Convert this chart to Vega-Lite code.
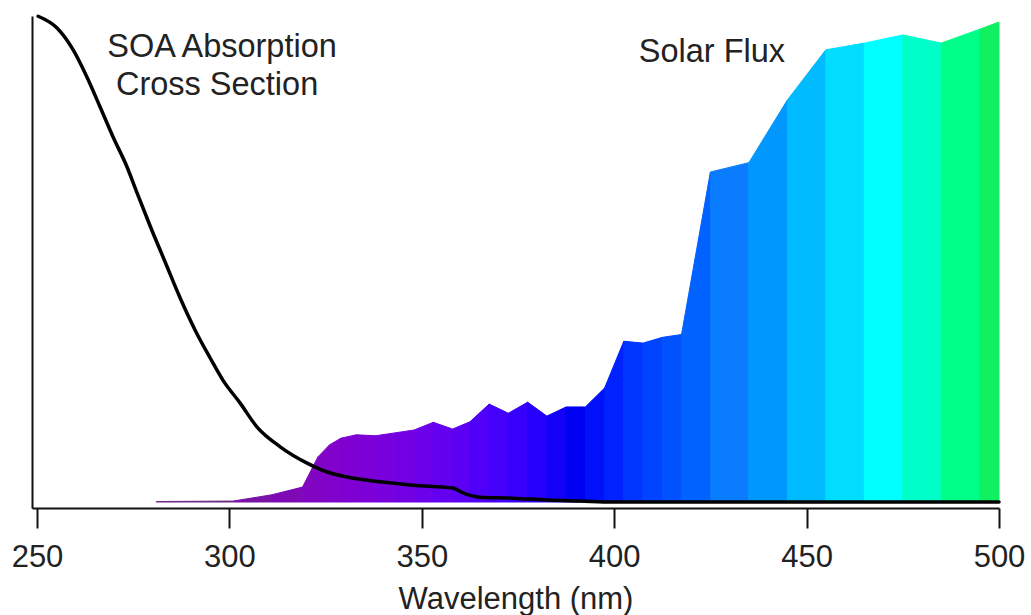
{
  "$schema": "https://vega.github.io/schema/vega-lite/v6.json",
  "autosize": {"type": "none"},
  "padding": {"left": 32, "top": 16, "right": 32, "bottom": 107},
  "width": 967,
  "height": 492,
  "background": "white",
  "config": {
    "view": {"stroke": null},
    "font": "Liberation Sans",
    "text": {"font": "Liberation Sans"}
  },
  "datasets": {
    "flux": [
      {"band": "281-301", "wl": 281, "flux": 0.1}, {"band": "281-301", "wl": 301, "flux": 0.2},
      {"band": "301-311", "wl": 301, "flux": 0.2}, {"band": "301-311", "wl": 311, "flux": 1.5},
      {"band": "311-319", "wl": 311, "flux": 1.5}, {"band": "311-319", "wl": 319, "flux": 3.1},
      {"band": "319-323", "wl": 319, "flux": 3.1}, {"band": "319-323", "wl": 323, "flux": 9.4},
      {"band": "323-326", "wl": 323, "flux": 9.4}, {"band": "323-326", "wl": 326, "flux": 11.9},
      {"band": "326-329", "wl": 326, "flux": 11.9}, {"band": "326-329", "wl": 329, "flux": 13.3},
      {"band": "329-333", "wl": 329, "flux": 13.3}, {"band": "329-333", "wl": 333, "flux": 14.0},
      {"band": "333-338", "wl": 333, "flux": 14.0}, {"band": "333-338", "wl": 338, "flux": 13.8},
      {"band": "338-343", "wl": 338, "flux": 13.8}, {"band": "338-343", "wl": 343, "flux": 14.4},
      {"band": "343-348", "wl": 343, "flux": 14.4}, {"band": "343-348", "wl": 348, "flux": 15.0},
      {"band": "348-353", "wl": 348, "flux": 15.0}, {"band": "348-353", "wl": 353, "flux": 16.6},
      {"band": "353-358", "wl": 353, "flux": 16.6}, {"band": "353-358", "wl": 358, "flux": 15.2},
      {"band": "358-362.5", "wl": 358, "flux": 15.2}, {"band": "358-362.5", "wl": 362.5, "flux": 16.7},
      {"band": "362.5-367.5", "wl": 362.5, "flux": 16.7}, {"band": "362.5-367.5", "wl": 367.5, "flux": 20.4},
      {"band": "367.5-372.5", "wl": 367.5, "flux": 20.4}, {"band": "367.5-372.5", "wl": 372.5, "flux": 18.5},
      {"band": "372.5-377.5", "wl": 372.5, "flux": 18.5}, {"band": "372.5-377.5", "wl": 377.5, "flux": 20.8},
      {"band": "377.5-382.5", "wl": 377.5, "flux": 20.8}, {"band": "377.5-382.5", "wl": 382.5, "flux": 17.9},
      {"band": "382.5-387.5", "wl": 382.5, "flux": 17.9}, {"band": "382.5-387.5", "wl": 387.5, "flux": 19.8},
      {"band": "387.5-392.5", "wl": 387.5, "flux": 19.8}, {"band": "387.5-392.5", "wl": 392.5, "flux": 19.8},
      {"band": "392.5-397.5", "wl": 392.5, "flux": 19.8}, {"band": "392.5-397.5", "wl": 397.5, "flux": 23.75},
      {"band": "397.5-402.5", "wl": 397.5, "flux": 23.75}, {"band": "397.5-402.5", "wl": 402.5, "flux": 33.5},
      {"band": "402.5-407.5", "wl": 402.5, "flux": 33.5}, {"band": "402.5-407.5", "wl": 407.5, "flux": 33.1},
      {"band": "407.5-412.5", "wl": 407.5, "flux": 33.1}, {"band": "407.5-412.5", "wl": 412.5, "flux": 34.3},
      {"band": "412.5-417.5", "wl": 412.5, "flux": 34.3}, {"band": "412.5-417.5", "wl": 417.5, "flux": 34.9},
      {"band": "417.5-425", "wl": 417.5, "flux": 34.9}, {"band": "417.5-425", "wl": 425, "flux": 68.75},
      {"band": "425-435", "wl": 425, "flux": 68.75}, {"band": "425-435", "wl": 435, "flux": 70.7},
      {"band": "435-445", "wl": 435, "flux": 70.7}, {"band": "435-445", "wl": 445, "flux": 83.75},
      {"band": "445-455", "wl": 445, "flux": 83.75}, {"band": "445-455", "wl": 455, "flux": 94.2},
      {"band": "455-465", "wl": 455, "flux": 94.2}, {"band": "455-465", "wl": 465, "flux": 95.6},
      {"band": "465-475", "wl": 465, "flux": 95.6}, {"band": "465-475", "wl": 475, "flux": 97.3},
      {"band": "475-485", "wl": 475, "flux": 97.3}, {"band": "475-485", "wl": 485, "flux": 95.6},
      {"band": "485-495", "wl": 485, "flux": 95.6}, {"band": "485-495", "wl": 495, "flux": 98.5},
      {"band": "495-500", "wl": 495, "flux": 98.5}, {"band": "495-500", "wl": 500, "flux": 100}
    ],
    "soa": [
      {"wl": 250.3, "xs": 101.2}, {"wl": 255.2, "xs": 98.75}, {"wl": 259.4, "xs": 94.2},
      {"wl": 263.0, "xs": 88.5}, {"wl": 266.4, "xs": 82.3}, {"wl": 269.8, "xs": 76.0},
      {"wl": 273.4, "xs": 69.8}, {"wl": 276.0, "xs": 64.4}, {"wl": 279.4, "xs": 57.5},
      {"wl": 283.3, "xs": 50.0}, {"wl": 287.2, "xs": 42.5}, {"wl": 291.1, "xs": 35.8},
      {"wl": 295.0, "xs": 30.0}, {"wl": 298.3, "xs": 25.4}, {"wl": 302.8, "xs": 20.6},
      {"wl": 307.2, "xs": 15.6}, {"wl": 313.2, "xs": 11.5}, {"wl": 320.2, "xs": 8.1},
      {"wl": 325.4, "xs": 6.25}, {"wl": 330.6, "xs": 5.2}, {"wl": 339.1, "xs": 4.2},
      {"wl": 347.7, "xs": 3.5}, {"wl": 358.1, "xs": 2.9}, {"wl": 360.7, "xs": 1.9},
      {"wl": 365.1, "xs": 1.0}, {"wl": 373.7, "xs": 0.8}, {"wl": 382.5, "xs": 0.4},
      {"wl": 391.1, "xs": 0.2}, {"wl": 399.7, "xs": 0.0}, {"wl": 450, "xs": 0.0},
      {"wl": 500, "xs": 0.0}
    ],
    "labels": [
      {"wl": 298.1, "y": 94.8, "text": "SOA Absorption"},
      {"wl": 296.8, "y": 86.9, "text": "Cross Section"},
      {"wl": 425.4, "y": 93.75, "text": "Solar Flux"}
    ]
  },
  "encoding": {
    "x": {
      "type": "quantitative",
      "scale": {"domain": [248.7, 500], "nice": false, "zero": false},
      "axis": {
        "title": "Wavelength (nm)",
        "values": [250, 300, 350, 400, 450, 500],
        "grid": false,
        "domainColor": "#111",
        "domainWidth": 2,
        "tickColor": "#111",
        "tickWidth": 2,
        "tickSize": 20,
        "labelFont": "Liberation Sans",
        "labelFontSize": 31,
        "labelColor": "#222",
        "labelPadding": 14,
        "labelFlush": false,
        "labelOverlap": false,
        "titleFont": "Liberation Sans",
        "titleFontSize": 31,
        "titleFontWeight": "normal",
        "titleColor": "#222",
        "titleBaseline": "alphabetic",
        "titleY": 100
      }
    }
  },
  "layer": [
    {
      "data": {"name": "flux"},
      "mark": {"type": "area", "strokeWidth": 1, "opacity": 1},
      "encoding": {
        "x": {"field": "wl"},
        "y": {
          "field": "flux",
          "type": "quantitative",
          "stack": null,
          "scale": {"domain": [-1.25, 101.25], "nice": false, "zero": false},
          "axis": {
            "title": null,
            "labels": false,
            "ticks": false,
            "grid": false,
            "domainColor": "#111",
            "domainWidth": 2
          }
        },
        "color": {
          "field": "band",
          "type": "nominal",
          "legend": null,
          "scale": {
            "domain": ["281-301", "301-311", "311-319", "319-323", "323-326", "326-329", "329-333", "333-338", "338-343", "343-348", "348-353", "353-358", "358-362.5", "362.5-367.5", "367.5-372.5", "372.5-377.5", "377.5-382.5", "382.5-387.5", "387.5-392.5", "392.5-397.5", "397.5-402.5", "402.5-407.5", "407.5-412.5", "412.5-417.5", "417.5-425", "425-435", "435-445", "445-455", "455-465", "465-475", "475-485", "485-495", "495-500"],
            "range": ["#6F2A86", "#7A12A6", "#7E0AB6", "#8006C2", "#8004C8", "#8002CC", "#7F00D0", "#7C00D6", "#7800DC", "#7200E3", "#6C00EA", "#6400F0", "#5C00F4", "#5000F8", "#4400FA", "#3600FC", "#2600FC", "#1200F8", "#0000F2", "#0010F8", "#0022FF", "#0036FF", "#0044FF", "#0052FF", "#0062FF", "#0A7CFF", "#0098FF", "#00BBFF", "#00DDFF", "#00FFFF", "#00FFC8", "#00FF88", "#10F060"]
          }
        },
        "stroke": {
          "field": "band",
          "type": "nominal",
          "legend": null,
          "scale": {
            "domain": ["281-301", "301-311", "311-319", "319-323", "323-326", "326-329", "329-333", "333-338", "338-343", "343-348", "348-353", "353-358", "358-362.5", "362.5-367.5", "367.5-372.5", "372.5-377.5", "377.5-382.5", "382.5-387.5", "387.5-392.5", "392.5-397.5", "397.5-402.5", "402.5-407.5", "407.5-412.5", "412.5-417.5", "417.5-425", "425-435", "435-445", "445-455", "455-465", "465-475", "475-485", "485-495", "495-500"],
            "range": ["#6F2A86", "#7A12A6", "#7E0AB6", "#8006C2", "#8004C8", "#8002CC", "#7F00D0", "#7C00D6", "#7800DC", "#7200E3", "#6C00EA", "#6400F0", "#5C00F4", "#5000F8", "#4400FA", "#3600FC", "#2600FC", "#1200F8", "#0000F2", "#0010F8", "#0022FF", "#0036FF", "#0044FF", "#0052FF", "#0062FF", "#0A7CFF", "#0098FF", "#00BBFF", "#00DDFF", "#00FFFF", "#00FFC8", "#00FF88", "#10F060"]
          }
        }
      }
    },
    {
      "data": {"name": "soa"},
      "mark": {"type": "line", "color": "#000", "strokeWidth": 3.5, "strokeJoin": "round", "strokeCap": "round", "interpolate": "monotone"},
      "encoding": {
        "x": {"field": "wl"},
        "y": {"field": "xs", "type": "quantitative"}
      }
    },
    {
      "data": {"name": "labels"},
      "mark": {"type": "text", "font": "Liberation Sans", "fontSize": 32.5, "color": "#222", "align": "center", "baseline": "middle"},
      "encoding": {
        "x": {"field": "wl"},
        "y": {"field": "y", "type": "quantitative"},
        "text": {"field": "text"}
      }
    }
  ]
}
